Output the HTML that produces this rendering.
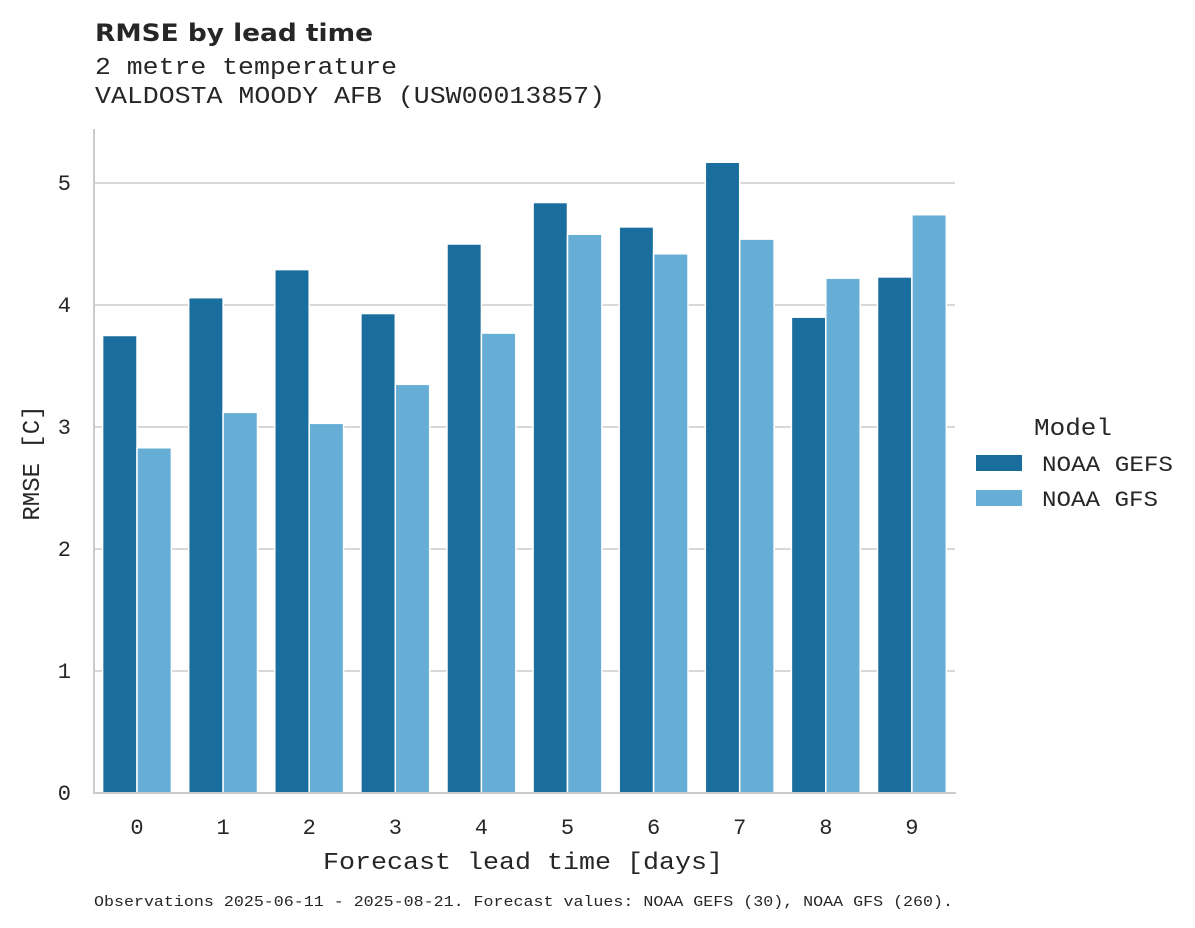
<!DOCTYPE html>
<html><head><meta charset="utf-8"><style>
html,body{margin:0;padding:0;background:#fff;}
svg{display:block;}
.m{font-family:"Liberation Mono","DejaVu Sans Mono",monospace;fill:#262626;}
</style></head><body>
<svg width="1195" height="928" xmlns="http://www.w3.org/2000/svg">
<rect width="1195" height="928" fill="#fff"/>
<text x="95" y="41" font-family="DejaVu Sans, Liberation Sans, sans-serif" font-weight="bold" font-size="24" fill="#262626" textLength="278" lengthAdjust="spacingAndGlyphs">RMSE by lead time</text>
<text x="95" y="74" class="m" font-size="24" textLength="302" lengthAdjust="spacingAndGlyphs">2 metre temperature</text>
<text x="95" y="103" class="m" font-size="24" textLength="510" lengthAdjust="spacingAndGlyphs">VALDOSTA MOODY AFB (USW00013857)</text>
<g stroke="#cccccc" stroke-width="1.6">
<line x1="94" x2="955" y1="183" y2="183"/>
<line x1="94" x2="955" y1="305" y2="305"/>
<line x1="94" x2="955" y1="427" y2="427"/>
<line x1="94" x2="955" y1="549" y2="549"/>
<line x1="94" x2="955" y1="671" y2="671"/>
</g>
<g id="bars" stroke="#fff" stroke-width="1.5"></g>
<line x1="94" x2="94" y1="129" y2="794" stroke="#cccccc" stroke-width="2"/>
<line x1="94" x2="956" y1="793" y2="793" stroke="#cccccc" stroke-width="2"/>
<g class="m" font-size="22" text-anchor="end">
<text x="71" y="800">0</text><text x="71" y="678">1</text><text x="71" y="556">2</text>
<text x="71" y="434">3</text><text x="71" y="312">4</text><text x="71" y="190">5</text>
</g>
<g id="xt" class="m" font-size="22" text-anchor="middle"></g>
<text x="323" y="869" class="m" font-size="24" textLength="400" lengthAdjust="spacingAndGlyphs">Forecast lead time [days]</text>
<text transform="translate(39,463) rotate(-90)" class="m" font-size="24" text-anchor="middle">RMSE [C]</text>
<text x="1034" y="435" class="m" font-size="24" textLength="78" lengthAdjust="spacingAndGlyphs">Model</text>
<rect x="976" y="455" width="46" height="16" fill="#1a6e9e"/>
<rect x="976" y="490" width="46" height="16" fill="#67aed6"/>
<text x="1042" y="471" class="m" font-size="22" textLength="131" lengthAdjust="spacingAndGlyphs">NOAA GEFS</text>
<text x="1042" y="506" class="m" font-size="22" textLength="116" lengthAdjust="spacingAndGlyphs">NOAA GFS</text>
<text x="94" y="906" class="m" font-size="14.5" textLength="859" lengthAdjust="spacingAndGlyphs">Observations 2025-06-11 - 2025-08-21. Forecast values: NOAA GEFS (30), NOAA GFS (260).</text>
</svg>
<script>
var a=[3.75,4.06,4.29,3.93,4.50,4.84,4.64,5.17,3.90,4.23],b=[2.83,3.12,3.03,3.35,3.77,4.58,4.42,4.54,4.22,4.74];
var g=document.getElementById('bars'),t=document.getElementById('xt'),s='';
for(var i=0;i<10;i++){var c=137+i*86.1;
s+='<rect x="'+(c-34.4)+'" y="'+(793-a[i]*122)+'" width="34.4" height="'+(a[i]*122)+'" fill="#1a6e9e"/>';
s+='<rect x="'+c+'" y="'+(793-b[i]*122)+'" width="34.4" height="'+(b[i]*122)+'" fill="#67aed6"/>';
t.innerHTML+='<text x="'+c+'" y="834">'+i+'</text>';}
g.innerHTML=s;
</script>
</body></html>
